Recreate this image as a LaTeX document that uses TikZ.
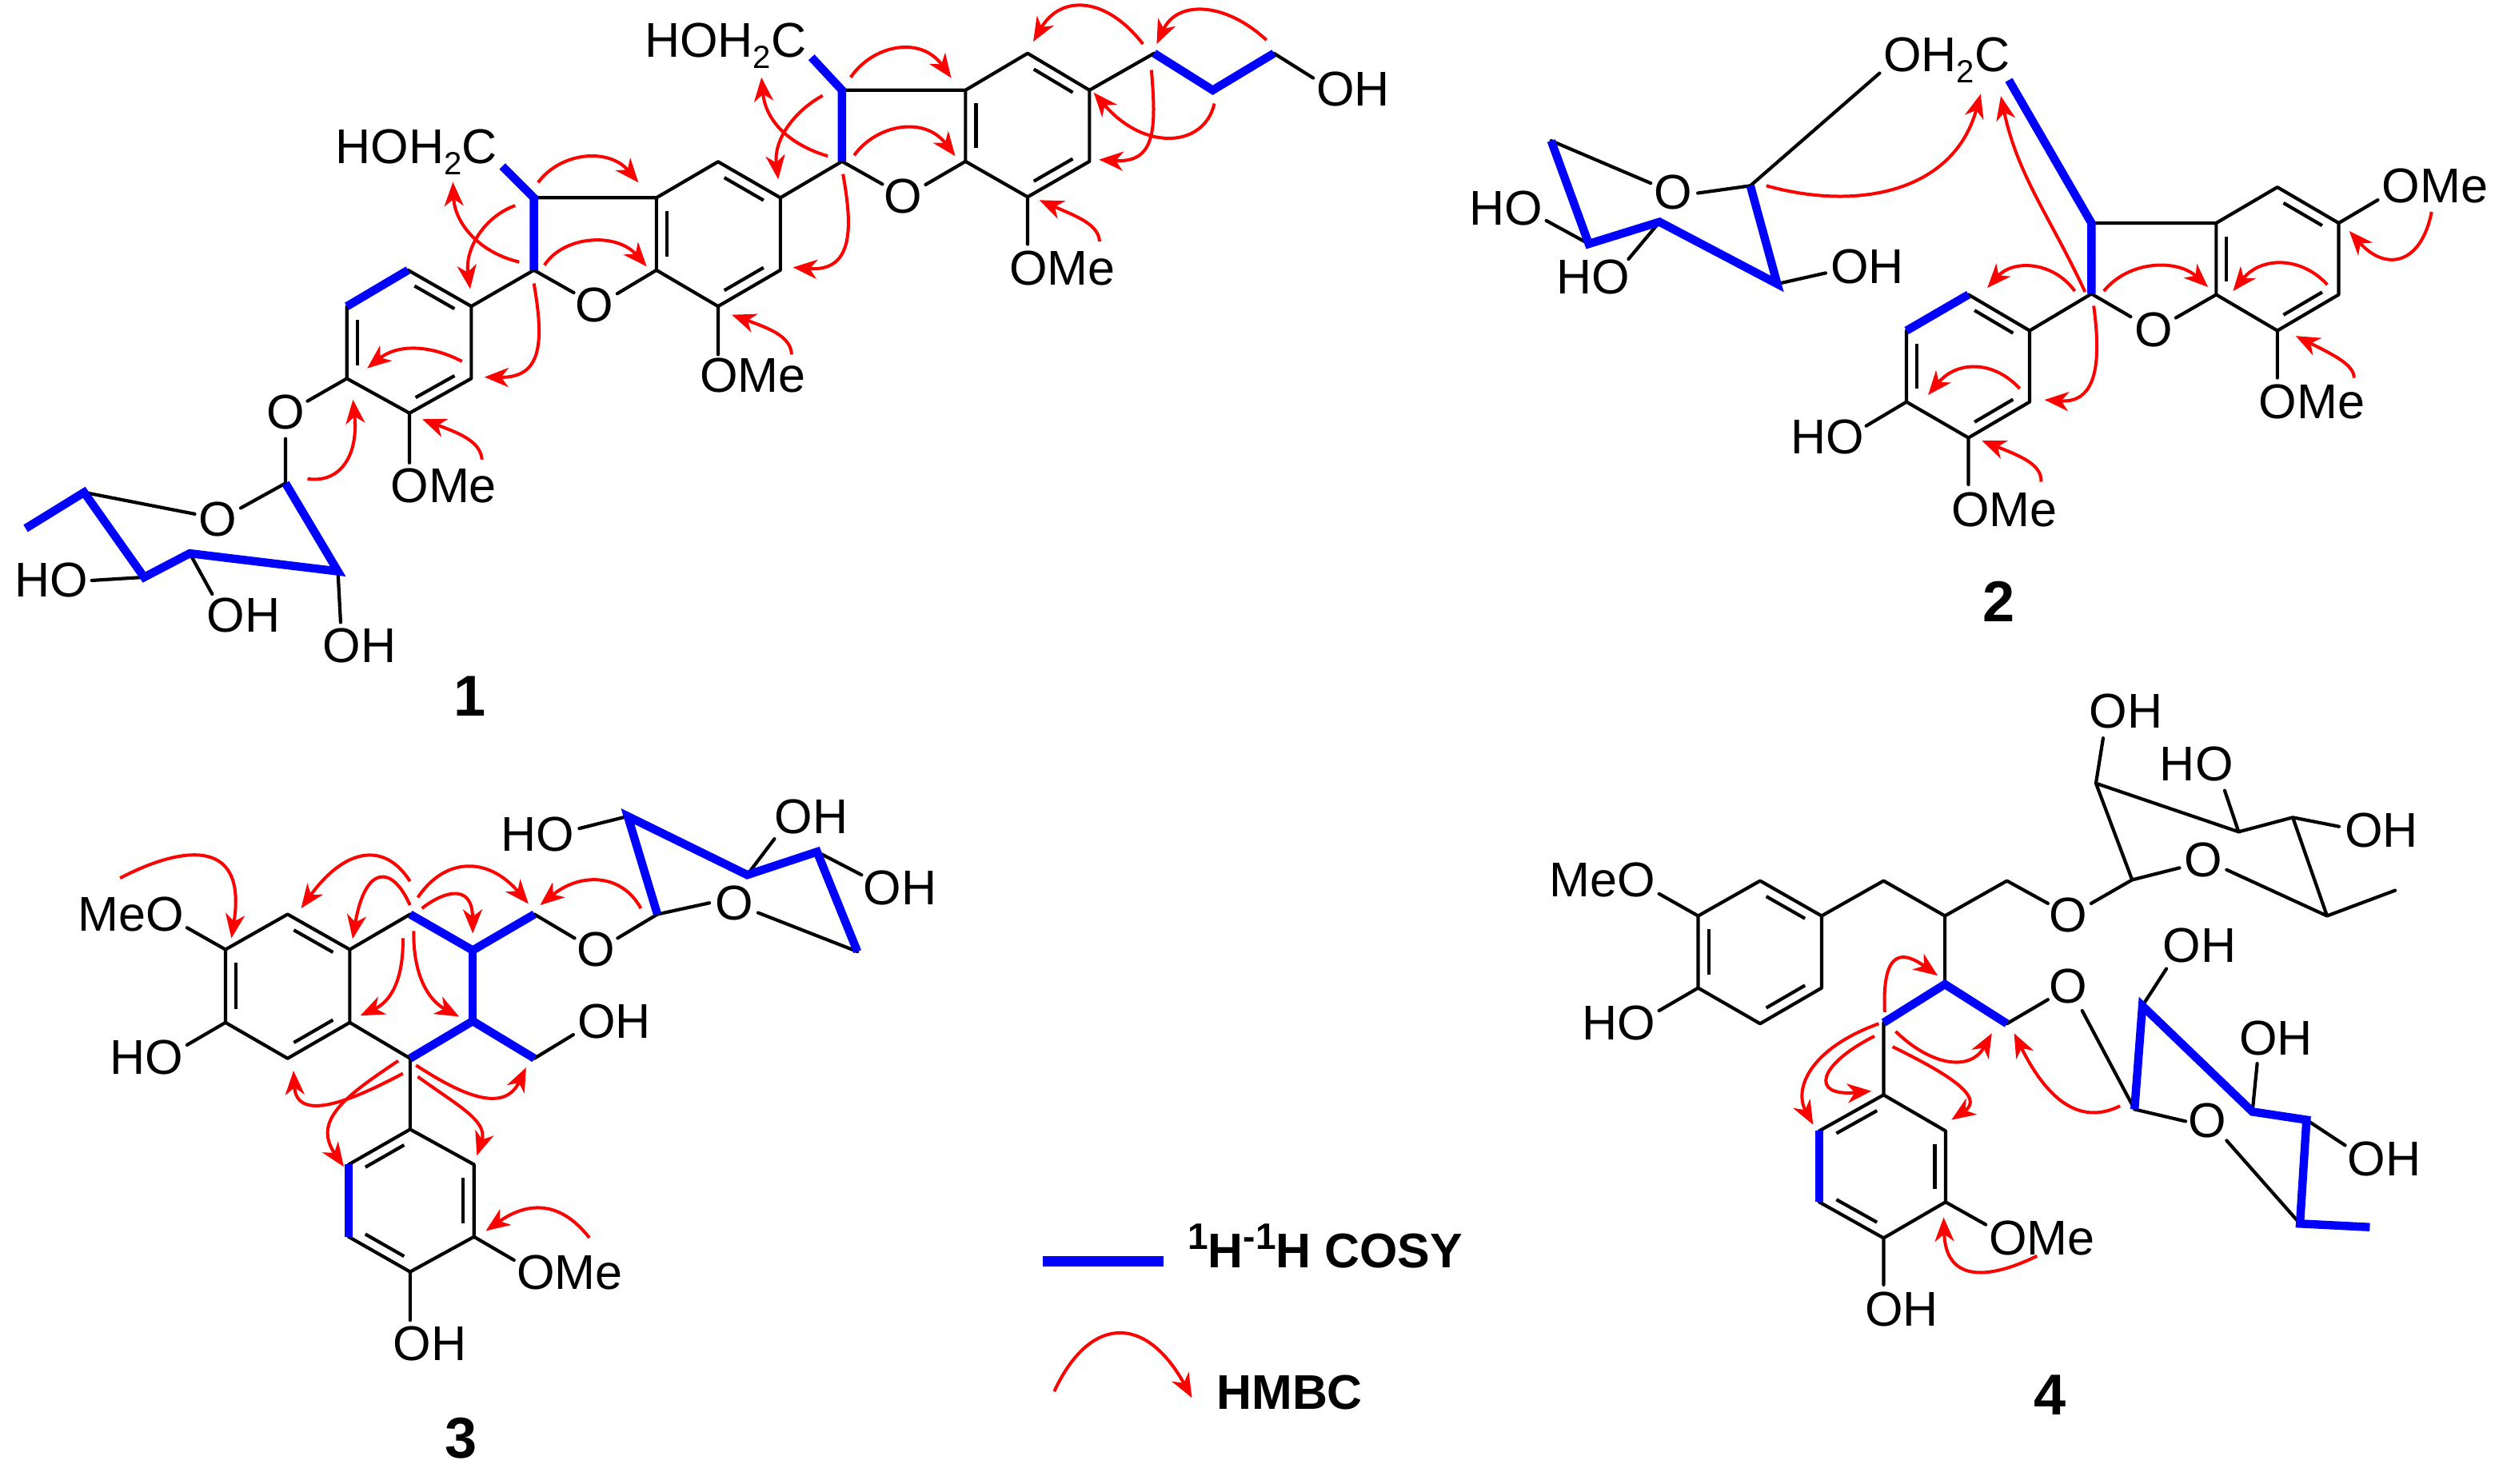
\documentclass[tikz,border=0pt]{standalone}
\usepackage{fontspec}
\setmainfont{Liberation Sans}
\usetikzlibrary{arrows.meta,calc}
\newcommand{\atoms}[1]{\foreach \n/\xx/\yy in {#1}{\coordinate (\n) at (\xx,\yy);}}
\newcommand{\hmbc}[5]{\coordinate (#1s) at (#2); \coordinate (#1t) at (#5); \draw[hmbcline] (#1s) .. controls (#3) and (#4) .. (#1t);}
\newcommand{\dbl}[3]{\draw[bond,line cap=butt] ($(#1)!.12!(#2)!.17!(#3)$) -- ($(#2)!.12!(#1)!.17!(#3)$);}
\newcommand{\subtwo}{\raisebox{-7pt}{\fontsize{20}{20}\selectfont 2}}
\newcommand{\suptxt}[1]{\raisebox{11.5pt}{\fontsize{23}{23}\selectfont #1}}
\definecolor{cosyblue}{RGB}{0,0,255}
\definecolor{hmbcred}{RGB}{255,0,0}
\tikzset{
  bond/.style={draw=black,line width=2.1pt,line cap=round,line join=round},
  cosy/.style={draw=cosyblue,line width=5.2pt,line cap=butt,line join=miter},
  hmbcline/.style={draw=hmbcred,line width=2pt,-{Stealth[length=15pt,width=12pt,inset=4.5pt,fill=hmbcred]}},
  lab/.style={inner sep=0pt,anchor=base,yshift=-9.8pt,font=\fontsize{30.5}{30.5}\selectfont},
  cpd/.style={inner sep=0pt,anchor=center,font=\bfseries\fontsize{36}{36}\selectfont},
  legendtext/.style={inner sep=0pt,anchor=base west,font=\bfseries\fontsize{30.4}{30.4}\selectfont}
}
\begin{document}
\begin{tikzpicture}[x=1pt,y=-1pt]
\useasboundingbox (0,0) rectangle (1568,926.8);
% ---------- compound 1
\atoms{aA/313.7/103.8,aB/333.4/123.5,aC/333.4/168.7,aD/409.9/123.5,aE/409.9/168.7,aF/448.4/101,aG/487.3/123.5,aH/487.3/168.7,aI/448.4/191.3,aR/448.4/146.2,
aJ/294.3/191.3,aK/254.8/168.7,aL/216.6/191.3,aM/216.6/236.4,aN/255.7/258,aP/294.3/236.4,aS/255.5/213.5,
aO1/358.3/182.8,aO2/385.4/183.4,aQ/448.4/221.4,aT/255.7/289,aU/192/250.5,aV/178.3/274,
sA/178.3/301.8,sB/211/356.8,sC/118.5/345.6,sD/90/360.5,sE/52.5/307.5,sF/16/330,sG/150.3/317.3,sH/121.6/321,sI/57.3/362.5,sJ/132.5/371,sK/212.7/388.7,
bA/506.7/35.8,bB/525.8/56.3,bC/525.8/100.8,bD/602.9/56.3,bE/602.9/100.8,bF/641.7/33.3,bG/680.3/56.3,bH/680.3/100.8,bI/641.7/123,bR/641.7/78.2,
bO1/551/115,bO2/578/115.3,bQ/641.7/152.5,bJ/720.7/33.3,bK/757.3/56.3,bL/795.5/33.3,bM/820/48.7}
\draw[bond] (aB)--(aD)--(aF)--(aG)--(aH)--(aI)--(aE)--(aD);
\draw[bond] (aE)--(aO2) (aO1)--(aC)--(aJ)--(aK) (aL)--(aM)--(aN)--(aP)--(aJ);
\draw[bond] (aI)--(aQ) (aN)--(aT) (aM)--(aU) (aV)--(sA)--(sG) (sE)--(sH) (sD)--(sI) (sC)--(sJ) (sB)--(sK);
\dbl{aD}{aE}{aR}\dbl{aF}{aG}{aR}\dbl{aH}{aI}{aR}\dbl{aJ}{aK}{aS}\dbl{aL}{aM}{aS}\dbl{aN}{aP}{aS}
\draw[cosy] (aA)--(aB)--(aC);
\draw[cosy] (aK)--(aL);
\draw[cosy] (sF)--(sE)--(sD)--(sC)--(sB)--(sA);
\draw[bond] (bB)--(bD)--(bF)--(bG)--(bH)--(bI)--(bE)--(bD);
\draw[bond] (bE)--(bO2) (bO1)--(bC)--(aG) (bI)--(bQ) (bG)--(bJ) (bL)--(bM);
\dbl{bD}{bE}{bR}\dbl{bF}{bG}{bR}\dbl{bH}{bI}{bR}
\draw[cosy] (bA)--(bB)--(bC);
\draw[cosy] (bJ)--(bK)--(bL);
\node[lab] (t1) at (260,92.5) {HOH\subtwo C};
\node[lab] (t2) at (453,26) {HOH\subtwo C};
\node[lab] (t3) at (371,191.3) {O};
\node[lab] (t4) at (564,123.3) {O};
\node[lab] (t5) at (470,235) {OMe};
\node[lab] (t6) at (663.4,168) {OMe};
\node[lab] (t7) at (845,56.3) {OH};
\node[lab] (t8) at (277,304) {OMe};
\node[lab] (t9) at (178.3,258) {O};
\node[lab] (t10) at (136,325) {O};
\node[lab] (t11) at (32,363) {HO};
\node[lab] (t12) at (152,385) {OH};
\node[lab] (t13) at (224.5,404) {OH};
\node[cpd] (n1) at (293.6,435) {1};
\hmbc{a1}{336,114}{350,95}{380,92}{398.7,114}
\hmbc{a2}{340,165.6}{352,147}{385,145}{403.8,166.4}
\hmbc{a3}{324.2,163.6}{300,158}{284,140}{282.8,113.7}
\hmbc{a4}{321.7,128.4}{303,135}{290,155}{293.6,180.5}
\hmbc{a5}{333.4,177}{340,215}{338,236}{302.5,235.5}
\hmbc{a6}{288.5,225.7}{268,215}{248,215}{229.3,230}
\hmbc{a7}{301,287}{300,275}{285,270}{263.7,261.8}
\hmbc{a8}{192,299}{212,302}{224,285}{220.4,249.6}
\hmbc{a9}{494.3,221.4}{494,210}{480,205}{457,196.6}
\hmbc{b1}{531.2,48.3}{545,28}{575,22}{594,48.7}
\hmbc{b2}{533.4,97}{547,78}{577,72}{596.5,97.5}
\hmbc{b3}{516.9,97.5}{492,90}{478,75}{475.5,48.3}
\hmbc{b4}{513.7,59.7}{495,70}{483,88}{486,112}
\hmbc{b5}{526.4,108.7}{532,140}{534,170}{495.2,167}
\hmbc{b7}{686.6,150.8}{686,140}{672,135}{649,125}
\hmbc{b8}{713.7,27.5}{690,-3}{662,-3}{645.2,26}
\hmbc{b9}{790.8,25}{765,1}{735,0}{722.3,27.5}
\hmbc{b10}{758.3,64.7}{752,92}{715,95}{683,57.8}
\hmbc{b11}{719,43.7}{722,80}{722,102}{686.3,99.7}
% ---------- compound 2
\atoms{cA/1254.4/50,cB/1306/139.3,cC/1306/183.5,cD/1383.9/139.3,cE/1383.9/184,cF/1422.1/116.9,cG/1460.4/139.3,cH/1460.4/184,cI/1422.1/206.5,cR/1422.1/161.7,
cJ/1267.4/206.5,cK/1229.2/184,cL/1190.5/206.5,cM/1190.5/251,cN/1229.2/273.4,cP/1267.4/251,cS/1229/228.7,
cO1/1330.5/197.8,cO2/1358.7/198.5,cQ/1422.1/236,cT/1484.8/124.9,cU/1165.3/266,cV/1229.2/302.6,
uA/1093/116,uB/1109.8/177.3,uC/1036.3/138.6,uD/992.1/152.3,uE/968.6/87.9,uG/1060.2/120.6,uH/1030.8/114.4,uI/1173.7/45.7,uJ/965.6/137.8,uK/1016.9/161.8,uL/1140/170.5}
\draw[bond] (cB)--(cD)--(cF)--(cG)--(cH)--(cI)--(cE)--(cD);
\draw[bond] (cE)--(cO2) (cO1)--(cC)--(cJ)--(cK) (cL)--(cM)--(cN)--(cP)--(cJ) (cI)--(cQ) (cG)--(cT) (cM)--(cU) (cN)--(cV);
\draw[bond] (uG)--(uA)--(uI) (uE)--(uH) (uD)--(uJ) (uC)--(uK) (uB)--(uL);
\dbl{cD}{cE}{cR}\dbl{cF}{cG}{cR}\dbl{cH}{cI}{cR}\dbl{cJ}{cK}{cS}\dbl{cL}{cM}{cS}\dbl{cN}{cP}{cS}
\draw[cosy] (cA)--(cB)--(cC);
\draw[cosy] (cK)--(cL);
\draw[cosy] (uE)--(uD)--(uC)--(uB)--(uA);
\node[lab] (v1) at (1215.5,35) {OH\subtwo C};
\node[lab] (v2) at (1344.8,206.5) {O};
\node[lab] (v3) at (1520.5,117) {OMe};
\node[lab] (v4) at (1443.6,251.5) {OMe};
\node[lab] (v5) at (1141,273.4) {HO};
\node[lab] (v6) at (1251.5,318.9) {OMe};
\node[lab] (v7) at (1044.7,121) {O};
\node[lab] (v8) at (940.4,130.6) {HO};
\node[lab] (v9) at (995,173.5) {HO};
\node[lab] (v10) at (1166,167) {OH};
\node[cpd] (n2) at (1248,375.5) {2};
\hmbc{c1}{1103,116}{1160,132}{1220,120}{1236.8,58.7}
\hmbc{c2}{1302,182.3}{1280,135}{1260,110}{1249.4,60}
\hmbc{c3}{1295.6,181.8}{1282,163}{1257,162}{1241,179.8}
\hmbc{c4}{1313.7,181.8}{1330,162}{1360,162}{1378.8,179.3}
\hmbc{c5}{1453.3,177.8}{1437,160}{1412,160}{1394.4,181.8}
\hmbc{c6}{1518.4,132.3}{1512,165}{1490,170}{1467,144.3}
\hmbc{c7}{1470,236}{1470,228}{1458,222}{1433.5,209.8}
\hmbc{c8}{1307.4,191}{1312,225}{1310,252}{1276.7,249.7}
\hmbc{c9}{1261.2,242.7}{1245,225}{1222,225}{1204,246.7}
\hmbc{c10}{1274.6,300.9}{1275,290}{1262,285}{1237.6,275.2}
% ---------- compound 3
\atoms{dA/140.8/593,dB/179.6/571,dC/218.4/593,dD/218.4/638.6,dE/179.6/661,dF/140.8/638.6,dR/179.6/616,
dG/256.1/571,dH/295.2/593.5,dI/295.2/637.7,dJ/256.1/661,dK/333.7/571,dL/333.7/661,dM/358.8/585.9,dN/385.7/585.9,dP/358/646.2,dQ/116.8/579.4,dT/116.8/652.6,
dU/256.1/705.3,dV/296/727.3,dW/296/772.4,dX/256.1/794.3,dY/217.7/772.4,dZ/217.7/727.3,dS/256.5/750,dAa/321/787,dAb/256.1/824.5,
wA/410.5/571,wB/392/509.8,wC/466.6/546.4,wD/510.2/532,wE/535.4/594.3,wG/443/563.9,wH/473.3/570,wI/361.7/517.4,wJ/483.6/523.9,wK/538/546.4}
\draw[bond] (dA)--(dB)--(dC)--(dD)--(dE)--(dF)--cycle;
\draw[bond] (dC)--(dG) (dD)--(dJ)--(dU)--(dV)--(dW)--(dX)--(dY) (dZ)--(dU) (dK)--(dM) (dN)--(wA)--(wG) (wH)--(wE) (dL)--(dP) (dA)--(dQ) (dF)--(dT) (dW)--(dAa) (dX)--(dAb) (wB)--(wI) (wC)--(wJ) (wD)--(wK);
\dbl{dA}{dF}{dR}\dbl{dB}{dC}{dR}\dbl{dD}{dE}{dR}\dbl{dU}{dZ}{dS}\dbl{dV}{dW}{dS}\dbl{dX}{dY}{dS}
\draw[cosy] (dG)--(dH)--(dK);
\draw[cosy] (dH)--(dI);
\draw[cosy] (dJ)--(dI)--(dL);
\draw[cosy] (dZ)--(dY);
\draw[cosy] (wA)--(wB)--(wC)--(wD)--(wE);
\node[lab] (x1) at (81.7,571.8) {MeO};
\node[lab] (x2) at (91.7,661) {HO};
\node[lab] (x3) at (372,593.5) {O};
\node[lab] (x4) at (458.5,564.8) {O};
\node[lab] (x5) at (335.5,521.7) {HO};
\node[lab] (x6) at (506.5,511) {OH};
\node[lab] (x7) at (562,555) {OH};
\node[lab] (x8) at (383.5,638.6) {OH};
\node[lab] (x9) at (355.8,795.5) {OMe};
\node[lab] (x10) at (268.3,840) {OH};
\node[cpd] (n3) at (287.8,898) {3};
\hmbc{d1}{75,548.4}{110,530}{155,520}{144.5,585.9}
\hmbc{d2}{256,550.4}{240,525}{215,530}{188,567.3}
\hmbc{d3}{256,565.3}{245,540}{228,540}{220.2,586.4}
\hmbc{d4}{260.9,560.5}{278,535}{305,535}{330,564.5}
\hmbc{d5}{263.5,567.3}{275,558}{295,550}{295.2,583}
\hmbc{d6}{400.2,567.3}{388,545}{362,545}{337.3,565.3}
\hmbc{d7}{251.6,585.9}{252,610}{245,625}{225,634.3}
\hmbc{d8}{258.3,581.4}{258,610}{268,625}{286.7,634.9}
\hmbc{d9}{251.6,670.4}{215,690}{185,700}{183.3,668.7}
\hmbc{d10}{248.7,662.5}{215,685}{195,700}{214.7,728.7}
\hmbc{d11}{259.8,665.3}{290,685}{315,695}{328.5,666.7}
\hmbc{d12}{260.9,672.4}{285,690}{305,700}{297.8,721.7}
\hmbc{d13}{368,773}{350,750}{330,750}{303.4,768.7}
% ---------- compound 4
\atoms{eA/1060.4/572,eB/1099.1/550.1,eC/1137.5/572,eD/1137.5/617,eE/1099.1/639.3,eF/1060.4/617,eR/1099/594.5,
eG/1176.2/550.1,eH/1214.5/572,eI/1253.2/550.1,eJ/1278.8/564.2,eK/1305.8/564.2,eL/1214.5/614.7,eM/1176.2/638.7,eN/1253.2/639.3,eP/1278.8/624.3,eQ/1036/558.2,eT/1036/631.2,
eU/1176.2/683.8,eV/1214.9/706.3,eW/1214.9/750.7,eX/1176.2/773.2,eY/1136/750.7,eZ/1136/706.3,eS/1175.5/728.5,eAa/1240/764.8,eAb/1176.2/802.4,
yA/1331.4/549.5,yB/1308.8/489.2,yC/1397.9/519.5,yD/1431.7/510.5,yE/1453.1/572,yF/1495.6/556.1,yG/1361/542,yH/1390.4/543.2,yI/1313.3/461,yJ/1389.2/493.7,yK/1460.6/516.2,
zO/1300.2/631.2,zA/1332.9/692.8,zB/1337.8/628.2,zC/1406.5/694.3,zD/1440.3/699.4,zE/1436.2/764.2,zF/1479.8/766.4,zG/1364.8/700.3,zH/1390.4/712.3,zI/1352.8/605,zJ/1409.5/664.2,zK/1464.4/715.3}
\draw[bond] (eA)--(eB)--(eC)--(eD)--(eE)--(eF)--cycle;
\draw[bond] (eC)--(eG)--(eH)--(eI)--(eJ) (eK)--(yA)--(yG) (yA)--(yB)--(yC)--(yD)--(yE)--(yF) (yH)--(yE) (yB)--(yI) (yC)--(yJ) (yD)--(yK) (eH)--(eL) (eM)--(eU) (eN)--(eP) (eA)--(eQ) (eF)--(eT);
\draw[bond] (eU)--(eV)--(eW)--(eX)--(eY) (eZ)--(eU) (eW)--(eAa) (eX)--(eAb) (zO)--(zA)--(zG) (zH)--(zE) (zB)--(zI) (zC)--(zJ) (zD)--(zK);
\dbl{eA}{eF}{eR}\dbl{eB}{eC}{eR}\dbl{eD}{eE}{eR}\dbl{eU}{eZ}{eS}\dbl{eV}{eW}{eS}\dbl{eX}{eY}{eS}
\draw[cosy] (eM)--(eL)--(eN);
\draw[cosy] (eZ)--(eY);
\draw[cosy] (zA)--(zB)--(zC)--(zD)--(zE)--(zF);
\node[lab] (w1) at (1000.7,550.1) {MeO};
\node[lab] (w2) at (1010.8,639.6) {HO};
\node[lab] (w3) at (1291.5,572) {O};
\node[lab] (w4) at (1376.1,537.5) {O};
\node[lab] (w5) at (1327.6,445) {OH};
\node[lab] (w6) at (1371.6,478) {HO};
\node[lab] (w7) at (1487,519.5) {OH};
\node[lab] (w8) at (1291.5,616.8) {O};
\node[lab] (w9) at (1373.5,591.3) {OH};
\node[lab] (w10) at (1421.2,649.2) {OH};
\node[lab] (w11) at (1488.8,724.3) {OH};
\node[lab] (w12) at (1378.3,700.3) {O};
\node[lab] (w13) at (1275,773.9) {OMe};
\node[lab] (w14) at (1187.4,818.3) {OH};
\node[cpd] (n4) at (1280.3,871.4) {4};
\hmbc{e1}{1176.9,632.1}{1175,590}{1190,595}{1210,609.3}
\hmbc{e2}{1173.2,639.3}{1130,655}{1120,680}{1132.2,702.4}
\hmbc{e3}{1170.5,647.1}{1135,665}{1130,685}{1168.6,681.4}
\hmbc{e4}{1183.7,644.1}{1205,665}{1230,670}{1243.8,645.3}
\hmbc{e5}{1181.8,653.7}{1215,670}{1240,685}{1218.6,699.4}
\hmbc{e6}{1323.8,690.7}{1295,705}{1275,680}{1257.7,645.3}
\hmbc{e7}{1272,784.4}{1240,800}{1215,800}{1213.7,760.3}
% ---------- legend
\coordinate (lgA) at (651.2,787.7);
\coordinate (lgB) at (726.5,787.7);
\draw[cosyblue,line width=6.5pt] (lgA)--(lgB);
\node[legendtext] (lg1) at (741.4,791.8) {\suptxt{1}H\suptxt{-1}H COSY};
\hmbc{lg}{658.3,869}{680,822}{715,820}{744.3,873}
\node[legendtext] (lg2) at (759.5,880.3) {HMBC};
\end{tikzpicture}
\end{document}
